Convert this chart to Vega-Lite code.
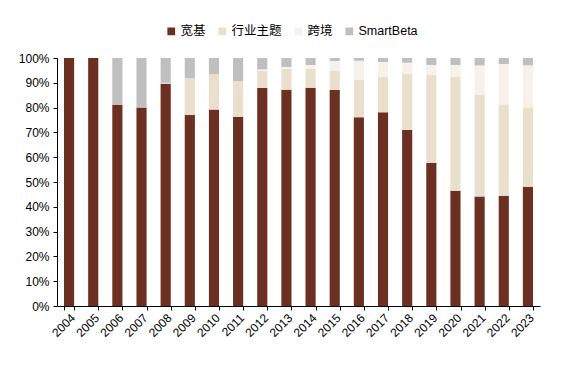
{
  "$schema": "https://vega.github.io/schema/vega-lite/v6.json",
  "width": 483,
  "height": 248,
  "autosize": {"type": "none"},
  "padding": {"left": 57, "top": 58, "right": 25, "bottom": 70},
  "background": "white",
  "config": {
    "view": {"stroke": null},
    "font": "Liberation Sans, Noto Sans CJK SC"
  },
  "datasets": {
    "rows": [
      {"year": "2004", "type": "宽基", "k": 0, "v": 100},
      {"year": "2005", "type": "宽基", "k": 0, "v": 100},
      {"year": "2006", "type": "宽基", "k": 0, "v": 81},
      {"year": "2006", "type": "SmartBeta", "k": 3, "v": 19},
      {"year": "2007", "type": "宽基", "k": 0, "v": 80},
      {"year": "2007", "type": "SmartBeta", "k": 3, "v": 20},
      {"year": "2008", "type": "宽基", "k": 0, "v": 89.6},
      {"year": "2008", "type": "行业主题", "k": 1, "v": 0.4},
      {"year": "2008", "type": "SmartBeta", "k": 3, "v": 10},
      {"year": "2009", "type": "宽基", "k": 0, "v": 77},
      {"year": "2009", "type": "行业主题", "k": 1, "v": 14.8},
      {"year": "2009", "type": "SmartBeta", "k": 3, "v": 8.2},
      {"year": "2010", "type": "宽基", "k": 0, "v": 79.2},
      {"year": "2010", "type": "行业主题", "k": 1, "v": 14.3},
      {"year": "2010", "type": "SmartBeta", "k": 3, "v": 6.5},
      {"year": "2011", "type": "宽基", "k": 0, "v": 76.3},
      {"year": "2011", "type": "行业主题", "k": 1, "v": 14.4},
      {"year": "2011", "type": "SmartBeta", "k": 3, "v": 9.3},
      {"year": "2012", "type": "宽基", "k": 0, "v": 87.9},
      {"year": "2012", "type": "行业主题", "k": 1, "v": 7.0},
      {"year": "2012", "type": "跨境", "k": 2, "v": 0.5},
      {"year": "2012", "type": "SmartBeta", "k": 3, "v": 4.6},
      {"year": "2013", "type": "宽基", "k": 0, "v": 87.2},
      {"year": "2013", "type": "行业主题", "k": 1, "v": 8.5},
      {"year": "2013", "type": "跨境", "k": 2, "v": 0.7},
      {"year": "2013", "type": "SmartBeta", "k": 3, "v": 3.6},
      {"year": "2014", "type": "宽基", "k": 0, "v": 88.0},
      {"year": "2014", "type": "行业主题", "k": 1, "v": 7.7},
      {"year": "2014", "type": "跨境", "k": 2, "v": 1.5},
      {"year": "2014", "type": "SmartBeta", "k": 3, "v": 2.8},
      {"year": "2015", "type": "宽基", "k": 0, "v": 87.1},
      {"year": "2015", "type": "行业主题", "k": 1, "v": 7.9},
      {"year": "2015", "type": "跨境", "k": 2, "v": 3.8},
      {"year": "2015", "type": "SmartBeta", "k": 3, "v": 1.2},
      {"year": "2016", "type": "宽基", "k": 0, "v": 76.1},
      {"year": "2016", "type": "行业主题", "k": 1, "v": 15.2},
      {"year": "2016", "type": "跨境", "k": 2, "v": 7.6},
      {"year": "2016", "type": "SmartBeta", "k": 3, "v": 1.1},
      {"year": "2017", "type": "宽基", "k": 0, "v": 78.1},
      {"year": "2017", "type": "行业主题", "k": 1, "v": 14.4},
      {"year": "2017", "type": "跨境", "k": 2, "v": 5.9},
      {"year": "2017", "type": "SmartBeta", "k": 3, "v": 1.6},
      {"year": "2018", "type": "宽基", "k": 0, "v": 71.0},
      {"year": "2018", "type": "行业主题", "k": 1, "v": 22.7},
      {"year": "2018", "type": "跨境", "k": 2, "v": 4.4},
      {"year": "2018", "type": "SmartBeta", "k": 3, "v": 1.9},
      {"year": "2019", "type": "宽基", "k": 0, "v": 57.7},
      {"year": "2019", "type": "行业主题", "k": 1, "v": 35.4},
      {"year": "2019", "type": "跨境", "k": 2, "v": 4.1},
      {"year": "2019", "type": "SmartBeta", "k": 3, "v": 2.8},
      {"year": "2020", "type": "宽基", "k": 0, "v": 46.5},
      {"year": "2020", "type": "行业主题", "k": 1, "v": 46.0},
      {"year": "2020", "type": "跨境", "k": 2, "v": 4.7},
      {"year": "2020", "type": "SmartBeta", "k": 3, "v": 2.8},
      {"year": "2021", "type": "宽基", "k": 0, "v": 44.2},
      {"year": "2021", "type": "行业主题", "k": 1, "v": 41.1},
      {"year": "2021", "type": "跨境", "k": 2, "v": 11.7},
      {"year": "2021", "type": "SmartBeta", "k": 3, "v": 3.0},
      {"year": "2022", "type": "宽基", "k": 0, "v": 44.5},
      {"year": "2022", "type": "行业主题", "k": 1, "v": 36.8},
      {"year": "2022", "type": "跨境", "k": 2, "v": 16.3},
      {"year": "2022", "type": "SmartBeta", "k": 3, "v": 2.4},
      {"year": "2023", "type": "宽基", "k": 0, "v": 48.1},
      {"year": "2023", "type": "行业主题", "k": 1, "v": 32.0},
      {"year": "2023", "type": "跨境", "k": 2, "v": 16.9},
      {"year": "2023", "type": "SmartBeta", "k": 3, "v": 3.0}
    ]
  },
  "data": {"name": "rows"},
  "mark": {"type": "bar"},
  "encoding": {
    "x": {
      "field": "year",
      "type": "nominal",
      "scale": {"paddingInner": 0.58, "paddingOuter": 0.29},
      "axis": {
        "title": null,
        "labelAngle": -45,
        "labelAlign": "right",
        "labelBaseline": "top",
        "labelFontSize": 12,
        "labelColor": "black",
        "labelPadding": 2,
        "tickBand": "extent",
        "tickColor": "black",
        "tickSize": 4,
        "domainColor": "black",
        "grid": false
      }
    },
    "y": {
      "field": "v",
      "type": "quantitative",
      "stack": "zero",
      "scale": {"domain": [0, 100], "nice": false},
      "axis": {
        "title": null,
        "values": [0, 10, 20, 30, 40, 50, 60, 70, 80, 90, 100],
        "labelExpr": "datum.value + '%'",
        "labelFontSize": 12,
        "labelColor": "black",
        "labelPadding": 4,
        "tickColor": "black",
        "tickSize": 4,
        "domainColor": "black",
        "grid": false
      }
    },
    "color": {
      "field": "type",
      "type": "nominal",
      "scale": {
        "domain": ["宽基", "行业主题", "跨境", "SmartBeta"],
        "range": ["#6B3022", "#EADFCC", "#F6F2EA", "#BFBFBF"]
      },
      "legend": {
        "title": null,
        "orient": "none",
        "direction": "horizontal",
        "legendX": 108,
        "legendY": -33,
        "symbolType": "square",
        "symbolSize": 60,
        "symbolStrokeWidth": 0,
        "labelFontSize": 12.5,
        "labelColor": "black",
        "columnPadding": 10,
        "labelOffset": 3
      }
    },
    "order": {"field": "k", "type": "quantitative", "sort": "ascending"}
  }
}
